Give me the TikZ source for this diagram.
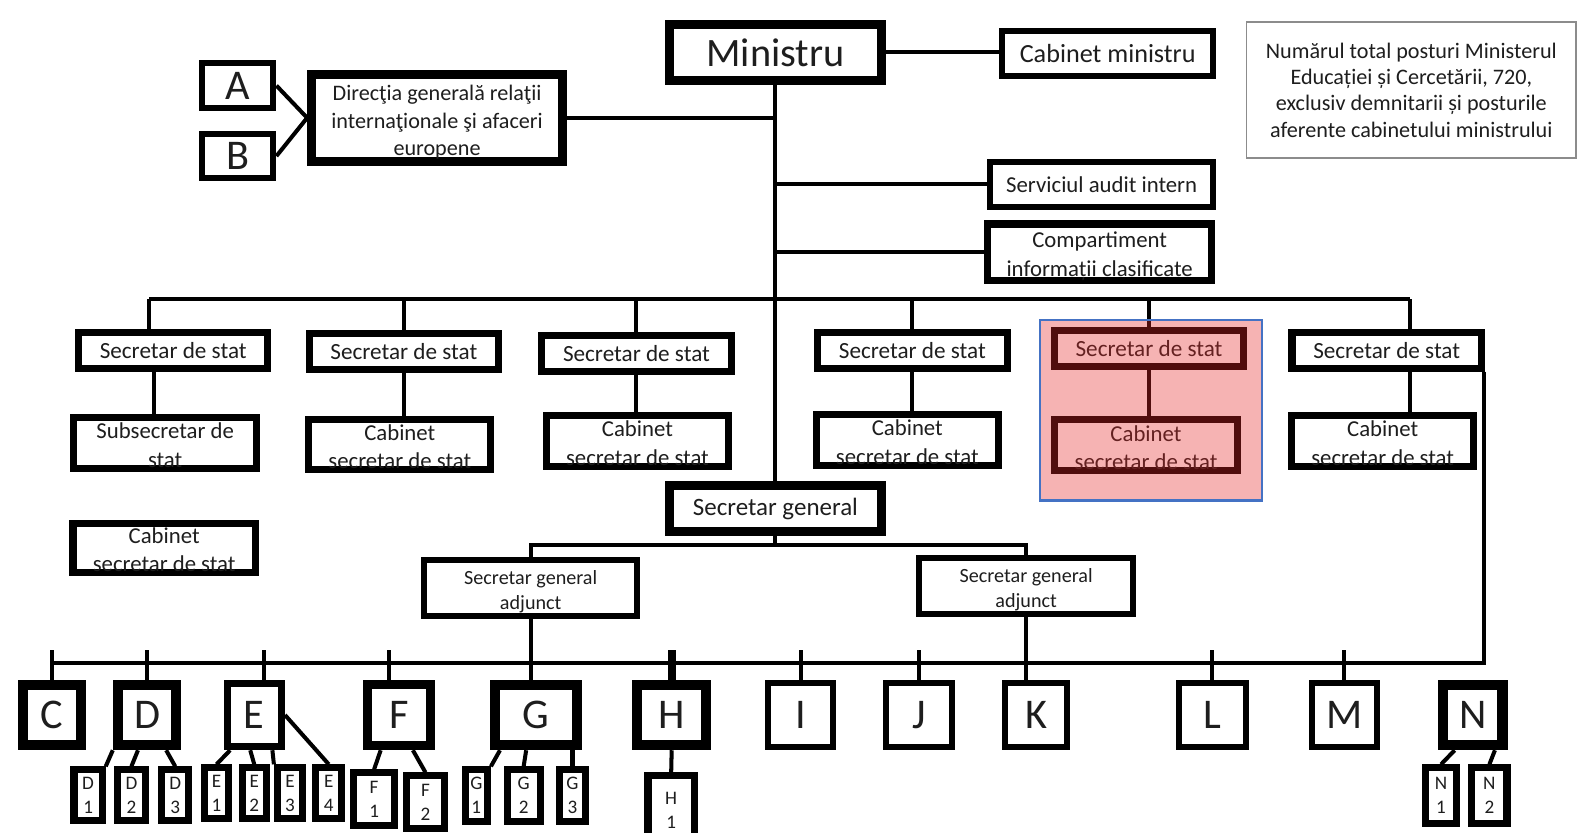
\documentclass[tikz,border=0pt]{standalone}
\usepackage{fontspec}
\setmainfont{Carlito}
\usetikzlibrary{backgrounds}
\definecolor{txt}{HTML}{1E1E1E}
\definecolor{hlred}{RGB}{232,40,40}
\definecolor{hlline}{HTML}{4472C4}
\newcommand{\upstrut}[1]{\rule{0pt}{#1}}
\tikzset{
 box/.style={draw=black, fill=white, inner sep=0pt, align=center, text=txt},
 wh/.style 2 args={minimum width=#1*0.5pt, minimum height=#2*0.5pt},
 lw/.style={line width=#1*0.5pt},
 fs/.style 2 args={font=\fontsize{#1pt}{#2pt}\selectfont},
 conn/.style={line width=2pt, draw=black},
 ssbox/.style={box, lw=7, wh={188}{35}, fs={11.5}{13}},
 cabbox/.style={box, lw=7, wh={181}{50}, fs={11.3}{14}},
 ltbox/.style={box, fs={21}{24}},
 sbbox/.style={box, lw=7, fs={9.5}{12}},
}
\begin{document}
\begin{tikzpicture}[x=0.5pt, y=-0.5pt]
\useasboundingbox (0,0) rectangle (1568,827);
\clip (0,0) rectangle (1568,827);

% top
\node[box, lw=9, wh={211}{56}, fs={20}{24}] (min) at (770,52) {Ministru};
\node[box, lw=6, wh={210}{44}, fs={13}{16}] (cabm) at (1100,53) {Cabinet ministru};
\node[draw=black!45, line width=0.7pt, fill=white, inner sep=0pt, align=center, text=txt,
      wh={327}{135}, fs={11}{13}] (note) at (1401.5,89.5)
  {Numărul total posturi Ministerul\\Educației și Cercetării, 720,\\exclusiv demnitarii și posturile\\aferente cabinetului ministrului};
\node[box, lw=6, wh={71}{44}, fs={21}{24}] (a) at (236,85) {A};
\node[box, lw=6, wh={71}{44}, fs={21}{24}] (b) at (236,155) {B};
\node[box, lw=9, wh={249}{86}, fs={11}{13.5}] (dir) at (434,117) {\upstrut{12pt}Direcţia generală relaţii\\internaţionale şi afaceri\\europene};
\node[box, lw=6, wh={222}{45}, fs={11.3}{13}] (aud) at (1094,183) {Serviciul audit intern};
\node[box, lw=7, wh={222}{48}, fs={11.3}{14.5}] (comp) at (1092,250.5) {\upstrut{11.5pt}Compartiment\\informații clasificate};

% secretar de stat row
\node[ssbox] (ss1) at (172,348) {Secretar de stat};
\node[ssbox] (ss2) at (401,349) {Secretar de stat};
\node[ssbox] (ss3) at (632,351) {Secretar de stat};
\node[ssbox] (ss4) at (906,348) {Secretar de stat};
\node[ssbox] (ss5) at (1141,346) {Secretar de stat};
\node[ssbox] (ss6) at (1377,348) {Secretar de stat};

\node[cabbox, wh={182}{50}] (sub1) at (164,440) {\upstrut{10pt}Subsecretar de\\stat};
\node[cabbox] (cab2) at (397,441.5) {\upstrut{10pt}Cabinet\\secretar de stat};
\node[cabbox] (cab3) at (633,438) {\upstrut{10pt}Cabinet\\secretar de stat};
\node[cabbox] (cab4) at (901,437) {\upstrut{10pt}Cabinet\\secretar de stat};
\node[cabbox] (cab5) at (1138,442) {\upstrut{10pt}Cabinet\\secretar de stat};
\node[cabbox] (cab6) at (1373,438) {\upstrut{10pt}Cabinet\\secretar de stat};
\node[cabbox, wh={181}{48}] (cab0) at (163,544) {\upstrut{10pt}Cabinet\\secretar de stat};

% secretar general
\node[box, lw=9, wh={211}{46}, fs={12.4}{14}] (sg) at (770,505) {Secretar general};
\node[box, lw=6, wh={212}{56}, fs={10}{12.5}] (sga1) at (527,584) {\upstrut{10.5pt}Secretar general\\adjunct};
\node[box, lw=6, wh={212}{56}, fs={10}{12.5}] (sga2) at (1019,582) {\upstrut{10.5pt}Secretar general\\adjunct};

% letters
\node[ltbox, lw=10, wh={57}{60}] (c) at (51.5,710) {C};
\node[ltbox, lw=10, wh={58}{60}] (d) at (146,710) {D};
\node[ltbox, lw=7, wh={54}{63}] (e) at (252.5,710) {E};
\node[ltbox, lw=9, wh={63}{61}] (f) at (396,710) {F};
\node[ltbox, lw=10, wh={81}{60}] (g) at (532.5,710) {G};
\node[ltbox, lw=10, wh={68}{60}] (h) at (667,710) {H};
\node[ltbox, lw=6, wh={64}{64}] (i) at (795,710) {I};
\node[ltbox, lw=6, wh={65}{64}] (j) at (912.5,710) {J};
\node[ltbox, lw=6, wh={62}{64}] (k) at (1029,710) {K};
\node[ltbox, lw=6, wh={66}{64}] (l) at (1204,710) {L};
\node[ltbox, lw=6, wh={64}{64}] (m) at (1335,710) {M};
\node[ltbox, lw=10, wh={59}{60}] (n) at (1462.5,710) {N};

% sub boxes
\node[sbbox, wh={28}{50}] (d1) at (87.5,789.5) {D\\1};
\node[sbbox, wh={28}{50}] (d2) at (130.5,789.5) {D\\2};
\node[sbbox, wh={27}{50}] (d3) at (174,789.5) {D\\3};
\node[sbbox, wh={23}{50}] (e1) at (215,787.5) {E\\1};
\node[sbbox, wh={24}{50}] (e2) at (252.5,787.5) {E\\2};
\node[sbbox, wh={25}{50}] (e3) at (288,787.5) {E\\3};
\node[sbbox, wh={26}{50}] (e4) at (326.5,787.5) {E\\4};
\node[sbbox, wh={40}{52}] (f1) at (371.5,793.5) {F\\1};
\node[sbbox, wh={38}{52}] (f2) at (422.5,796.5) {F\\2};
\node[sbbox, wh={22}{51}] (g1) at (473,790) {G\\1};
\node[sbbox, wh={33}{51}] (g2) at (520,790) {G\\2};
\node[sbbox, wh={26}{51}] (g3) at (568.5,790) {G\\3};
\node[sbbox, wh={46}{69}] (h1) at (666.5,805) {H\\1};
\node[sbbox, wh={31}{55}] (n1) at (1431,790) {N\\1};
\node[sbbox, wh={35}{55}] (n2) at (1479,790) {N\\2};

% connectors on background layer
\begin{scope}[on background layer]
\fill[white] (0,0) rectangle (1568,827);
\coordinate (b1L) at (148,297);
\coordinate (b1R) at (1400,297);
\coordinate (b2L) at (52,658);
\coordinate (b2R) at (1474,658);
\coordinate (sgj) at (770,541);
\coordinate (stub) at (0,645);

\draw[conn] (min.east) -- (min.east -| cabm.west);
\draw[conn] (a.east) -- (dir.west);
\draw[conn] (b.east) -- (dir.west);
\draw[conn] (min.south) -- (sg.north);
\draw[conn] (dir.east) -- (dir.east -| min.south);
\draw[conn] (aud.west) -- (aud.west -| min.south);
\draw[conn] (comp.west) -- (comp.west -| min.south);

\draw[conn] (b1L) -- (b1R);
\draw[conn] (ss1.north -| b1L) -- (b1L);
\draw[conn] (ss2.north) -- (ss2.north |- b1L);
\draw[conn] (ss3.north) -- (ss3.north |- b1L);
\draw[conn] (ss4.north) -- (ss4.north |- b1L);
\draw[conn] (ss5.north) -- (ss5.north |- b1L);
\draw[conn] (ss6.north -| b1R) -- (b1R);

\path ([xshift=-9.5pt]ss1.south) coordinate (t1);
\draw[conn] (t1) -- (t1 |- sub1.north);
\draw[conn] (ss2.south) -- (ss2.south |- cab2.north);
\draw[conn] (ss3.south) -- (ss3.south |- cab3.north);
\draw[conn] (ss4.south) -- (ss4.south |- cab4.north);
\draw[conn] (ss5.south) -- (ss5.south |- cab5.north);
\draw[conn] (ss6.south -| b1R) -- (cab6.north -| b1R);

\draw[conn] (ss6.south -| b2R) -- (b2R) -- (b2L);

\draw[conn] (sg.south) -- (sgj);
\draw[conn] (sga1.north) -- (sga1.north |- sgj) -- (sga2.north |- sgj) -- (sga2.north);
\draw[conn] (sga1.south) -- (sga1.south |- g.north);
\draw[conn] (sga2.south) -- (sga2.south |- k.north);

\draw[conn] (c.north) -- (c.north |- stub);
\draw[conn] (d.north) -- (d.north |- stub);
\path ([xshift=5pt]e.north) coordinate (te);
\draw[conn] (te) -- (te |- stub);
\path ([xshift=-5pt]f.north) coordinate (tf);
\draw[conn] (tf) -- (tf |- stub);
\draw[conn, line width=4pt] (h.north) -- (h.north |- stub);
\draw[conn] (i.north) -- (i.north |- stub);
\draw[conn] (j.north) -- (j.north |- stub);
\draw[conn] (l.north) -- (l.north |- stub);
\draw[conn] (m.north) -- (m.north |- stub);

\draw[conn] (d.south west) -- (d1.north east);
\draw[conn] ([xshift=-4.5pt]d.south) -- (d2.north);
\draw[conn] ([xshift=9.5pt]d.south) -- (d3.north);
\draw[conn] ([xshift=-12pt]e.south) -- (e1.north);
\draw[conn] ([xshift=-2pt]e.south) -- (e2.north);
\draw[conn] ([xshift=9pt]e.south) -- (e3.north west);
\draw[conn] (e.east) -- (e4.north);
\draw[conn] ([xshift=-9pt]f.south) -- (f1.north);
\draw[conn] ([xshift=7pt]f.south) -- (f2.north);
\draw[conn] ([xshift=-18pt]g.south) -- (g1.north east);
\draw[conn] ([xshift=-5pt]g.south) -- (g2.north);
\draw[conn] (g3.north |- g.south) -- (g3.north);
\draw[conn] (h.south) -- (h1.north);
\draw[conn] ([xshift=-9pt]n.south) -- (n1.north);
\draw[conn] ([xshift=11pt]n.south) -- (n2.north);
\end{scope}

% highlight overlay
\fill[hlred, fill opacity=0.35] (1033,318) rectangle (1253,497);
\draw[hlline, line width=1pt] (1033,318) rectangle (1253,497);
\end{tikzpicture}
\end{document}
